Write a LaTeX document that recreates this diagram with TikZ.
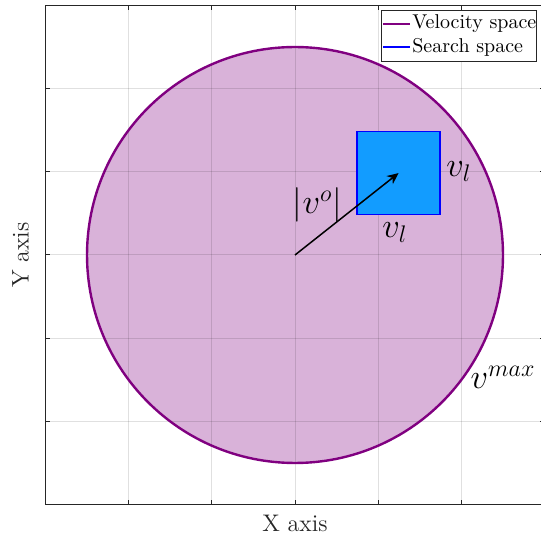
\documentclass[tikz,border=0pt]{standalone}
\usepackage{amsmath,amssymb}
\usepackage{xcolor}
\usepackage{tikz}
\usetikzlibrary{arrows.meta, positioning}

\definecolor{velfill}{rgb}{0.85,0.70,0.85}
\definecolor{velline}{rgb}{0.50,0.00,0.50}
\definecolor{searchfill}{rgb}{0.07,0.61,1.00}
\definecolor{axisgray}{rgb}{0.15,0.15,0.15}

\begin{document}
\begin{tikzpicture}[x=41.6pt, y=41.6pt,
  gridline/.style={draw=black, opacity=0.12, line width=0.5pt},
  tickmark/.style={draw=axisgray, line width=0.5pt},
  mathlabel/.style={font=\LARGE}]
  \useasboundingbox (-3.546,-3.377) rectangle (2.957,3.065);

  % Velocity space
  \fill[velfill] (0,0) circle (2.5);

  % Grid
  \foreach \t in {-2,...,2} {
    \draw[gridline] (\t,-3) -- (\t,3);
    \draw[gridline] (-3,\t) -- (3,\t);
  }
  \draw[velline, line width=1.2pt] (0,0) circle (2.5);

  % Search space
  \node[draw=blue, fill=searchfill, line width=0.8pt, minimum size=41.6pt, inner sep=0pt] (search) at (1.245,0.985) {};
  \coordinate (origin) at (0,0);
  \draw[line width=0.75pt, -{Stealth[length=2mm, width=1.8mm]}] (origin) -- (search.center);

  % Labels
  \node[mathlabel] (vo) at (0.27,0.60) {$|v^{o}|$};
  \node[mathlabel] (vlside) at (1.97,1.0) {$v_l$};
  \node[mathlabel] (vlbottom) at (1.2,0.27) {$v_l$};
  \node[mathlabel] (vmax) at (2.5,-1.47) {$v^{max}$};

  % Axes box and ticks
  \draw[axisgray, line width=0.5pt] (-3,-3) rectangle (3,3);
  \foreach \t in {-2,...,2} {
    \draw[tickmark] (\t,-3) -- (\t,-2.94);
    \draw[tickmark] (\t,3) -- (\t,2.94);
    \draw[tickmark] (-3,\t) -- (-2.94,\t);
    \draw[tickmark] (3,\t) -- (2.94,\t);
  }

  % Axis labels
  \node[font=\large, text=axisgray] (xlabel) at (0,-3.23) {X axis};
  \node[font=\large, text=axisgray, rotate=90] (ylabel) at (-3.3,0) {Y axis};

  % Legend
  \draw[axisgray, fill=white, line width=0.5pt] (1.034,2.32) rectangle (2.908,2.933);
  \draw[velline, line width=1.2pt] (1.058,2.776) -- (1.382,2.776);
  \draw[blue, line width=0.8pt] (1.058,2.50) -- (1.382,2.50);
  \node[anchor=west, inner sep=0pt] (legvel) at (1.406,2.776) {Velocity space};
  \node[anchor=west, inner sep=0pt] (legsearch) at (1.406,2.50) {Search space};
\end{tikzpicture}
\end{document}
